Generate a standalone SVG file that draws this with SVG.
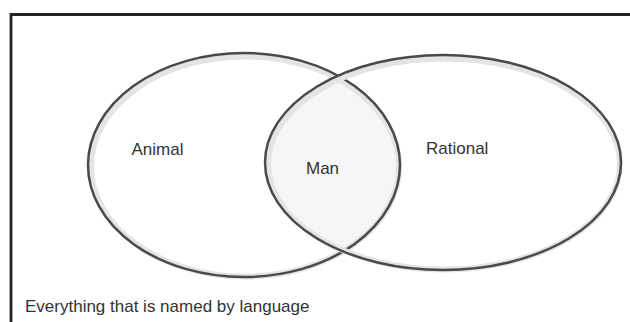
<svg xmlns="http://www.w3.org/2000/svg" width="630" height="322" viewBox="0 0 630 322">
  <style>
    .lbl { font-family: "Liberation Sans", Arial, sans-serif; font-size: 17px; fill: #333333; }
    .halo { fill: none; stroke: #e4e4e4; stroke-width: 6; }
    .ring { fill: none; stroke: #4a4a4a; stroke-width: 2.5; }
  </style>
  <defs>
    <clipPath id="clipAnimal">
      <ellipse cx="244" cy="165" rx="156" ry="112"/>
    </clipPath>
  </defs>
  <rect x="0" y="0" width="630" height="322" fill="#ffffff"/>
  <g id="frame">
    <path d="M 11 322 V 14.5 H 630" fill="none" stroke="#222222" stroke-width="2.8"/>
  </g>
  <g id="man">
    <ellipse cx="443" cy="162.5" rx="178" ry="107.5" clip-path="url(#clipAnimal)" fill="#f6f6f6"/>
  </g>
  <g id="animal">
    <ellipse class="halo" cx="245" cy="166.5" rx="154" ry="110"/>
    <ellipse class="ring" cx="244" cy="165" rx="156" ry="112"/>
    <text class="lbl" x="131.5" y="155">Animal</text>
  </g>
  <g id="rational">
    <ellipse class="halo" cx="444" cy="164" rx="176" ry="105.5"/>
    <ellipse class="ring" cx="443" cy="162.5" rx="178" ry="107.5"/>
    <text class="lbl" x="426" y="154">Rational</text>
  </g>
  <g id="man-label">
    <text class="lbl" x="306" y="173.5">Man</text>
  </g>
  <g id="universe">
    <text class="lbl" x="25" y="311.5" font-size="17.7">Everything that is named by language</text>
  </g>
</svg>
